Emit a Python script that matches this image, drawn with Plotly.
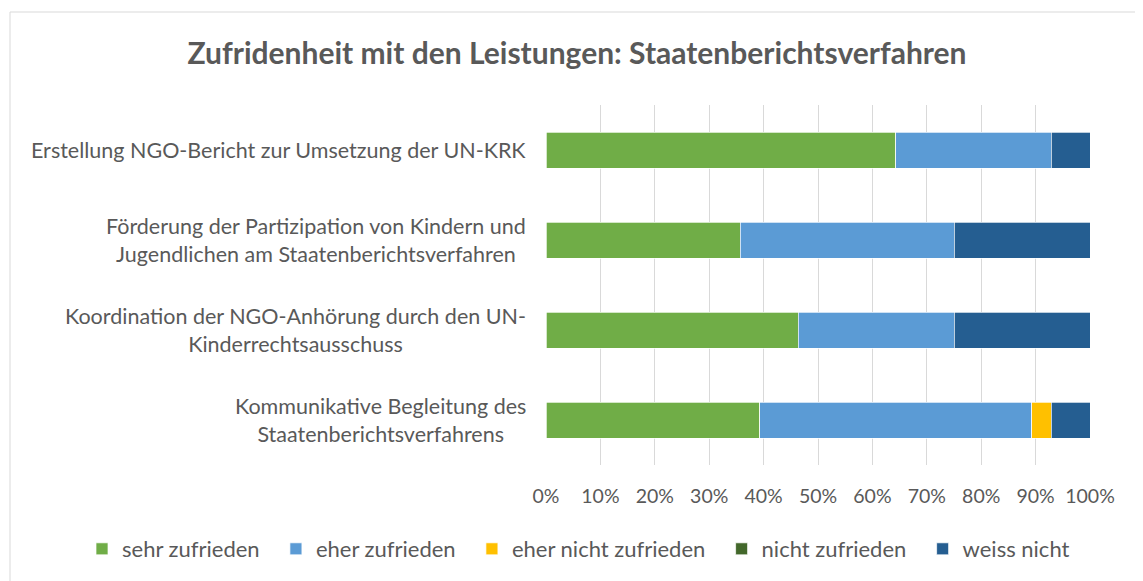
import plotly.graph_objects as go

categories = [
    "Erstellung NGO-Bericht zur Umsetzung der UN-KRK",
    "Förderung der Partizipation von Kindern und<br>Jugendlichen am Staatenberichtsverfahren",
    "Koordination der NGO-Anhörung durch den UN-<br>Kinderrechtsausschuss",
    "Kommunikative Begleitung des<br>Staatenberichtsverfahrens",
]
series_names = ["sehr zufrieden", "eher zufrieden", "eher nicht zufrieden",
                "nicht zufrieden", "weiss nicht"]
sehr_zufrieden = [0.643, 0.357, 0.464, 0.393]
eher_zufrieden = [0.286, 0.393, 0.286, 0.500]
eher_nicht_zufrieden = [0.0, 0.0, 0.0, 0.036]
nicht_zufrieden = [0.0, 0.0, 0.0, 0.0]
weiss_nicht = [0.071, 0.250, 0.250, 0.071]
tick_vals = [i / 10 for i in range(11)]
tick_text = [f"{i * 10}%" for i in range(11)]

colors = ["#70AD47", "#5B9BD5", "#FFC000", "#43682B", "#255E91"]
values = [sehr_zufrieden, eher_zufrieden, eher_nicht_zufrieden,
          nicht_zufrieden, weiss_nicht]

FONT = "Lato"
GREY = "#595959"
# page body has an 8px margin, so the figure is a bit smaller than the window
W, H = 1135, 573
OFF = 8

fig = go.Figure()
for name, vals, col in zip(series_names, values, colors):
    fig.add_trace(go.Bar(
        x=vals, y=categories, name=name + "\u00a0\u00a0", orientation="h",
        marker=dict(color=col, line=dict(color="white", width=0.7)),
        hovertemplate="%{x:.1%}<extra>" + name + "</extra>",
    ))

# category labels: right-aligned block, lines centred (like the original)
for cat in categories:
    fig.add_annotation(
        x=(528 - 546) / 544, xref="paper", y=cat, yref="y",
        text=cat, showarrow=False, xanchor="right", align="center",
        font=dict(family=FONT, size=21.5, color=GREY),
    )

fig.update_layout(
    width=W, height=H,
    barmode="stack", bargap=0.6,
    paper_bgcolor="white", plot_bgcolor="white",
    margin=dict(l=546 - OFF, r=W - (1090 - OFF), t=105 - OFF, b=H - (465 - OFF),
                autoexpand=False),
    font=dict(family=FONT, color=GREY, size=18),
    title=dict(text="<b>Zufridenheit mit den Leistungen: Staatenberichtsverfahren</b>",
               x=(577 - OFF) / W, xref="container", xanchor="center",
               y=1 - (53 - OFF) / H, yref="container", yanchor="middle",
               font=dict(family=FONT, size=30, color=GREY)),
    legend=dict(orientation="h", xref="paper", x=(82 - 546) / 544, xanchor="left",
                yref="paper", y=(465 - 549) / 360, yanchor="middle",
                font=dict(family=FONT, size=22, color=GREY),
                traceorder="normal", itemwidth=30),
    xaxis=dict(range=[0, 1], tickvals=tick_vals, ticktext=tick_text,
               showgrid=True, gridcolor="#D9D9D9", gridwidth=1,
               zeroline=False, showline=False, ticks="",
               ticklabelstandoff=17,
               tickfont=dict(family=FONT, size=19.5, color=GREY)),
    yaxis=dict(autorange="reversed", showticklabels=False, showgrid=False,
               zeroline=False, showline=False),
    shapes=[dict(type="rect", xref="paper", yref="paper",
                 x0=(10 - 546) / 544, x1=(1150 - 546) / 544,
                 y0=(465 - 590) / 360, y1=(465 - 12) / 360,
                 line=dict(color="#D9D9D9", width=1), fillcolor="rgba(0,0,0,0)")],
)

fig.write_html("out.html")
